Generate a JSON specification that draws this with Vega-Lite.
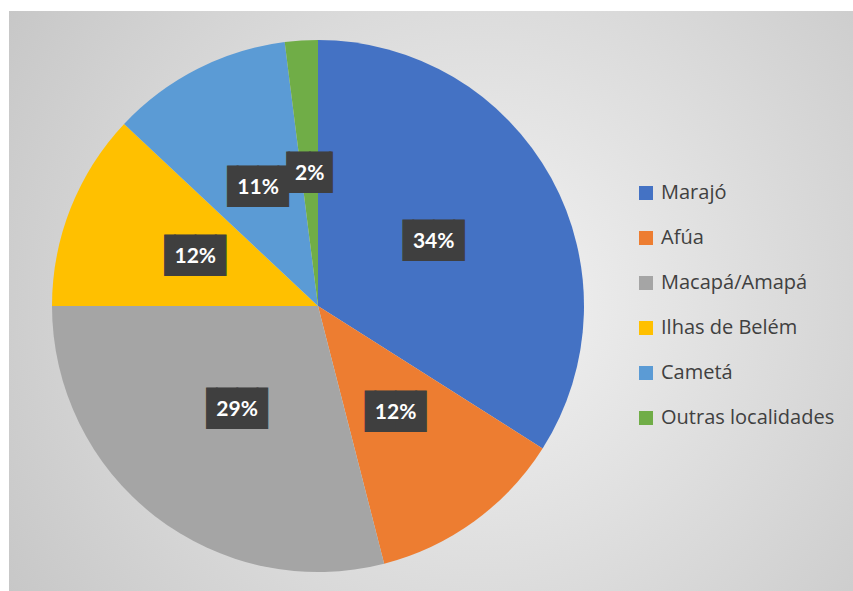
{
  "$schema": "https://vega.github.io/schema/vega-lite/v6.json",
  "width": 844,
  "height": 580,
  "autosize": {"type": "none"},
  "padding": {"left": 9, "top": 11, "right": 0, "bottom": 0},
  "background": "white",
  "config": {
    "view": {"stroke": null},
    "legend": {
      "orient": "none",
      "legendX": 627,
      "legendY": 172,
      "symbolType": "square",
      "symbolSize": 196,
      "symbolStrokeWidth": 0,
      "labelFont": "Open Sans",
      "labelFontSize": 20,
      "labelColor": "#404040",
      "labelOffset": 5,
      "rowPadding": 25,
      "labelLimit": 300
    }
  },
  "datasets": {
    "shares": [
      {"local": "Marajó", "pct": 0.34, "ord": 1},
      {"local": "Afúa", "pct": 0.12, "ord": 2},
      {"local": "Macapá/Amapá", "pct": 0.29, "ord": 3},
      {"local": "Ilhas de Belém", "pct": 0.12, "ord": 4},
      {"local": "Cametá", "pct": 0.11, "ord": 5},
      {"local": "Outras localidades", "pct": 0.02, "ord": 6}
    ],
    "panel": [{"name": "background"}]
  },
  "layer": [
    {
      "data": {"name": "panel"},
      "mark": {
        "type": "rect",
        "color": {
          "gradient": "radial",
          "x1": 0.56, "y1": 0.5, "r1": 0,
          "x2": 0.56, "y2": 0.5, "r2": 0.72,
          "stops": [
            {"offset": 0, "color": "#f3f3f3"},
            {"offset": 1, "color": "#c3c3c3"}
          ]
        }
      },
      "encoding": {
        "x": {"value": 0},
        "x2": {"value": "width"},
        "y": {"value": 0},
        "y2": {"value": "height"}
      }
    },
    {
      "data": {"name": "shares"},
      "mark": {"type": "arc", "outerRadius": 266, "x": 309, "y": 295},
      "encoding": {
        "theta": {"field": "pct", "type": "quantitative", "stack": true},
        "order": {"field": "ord", "type": "quantitative"},
        "color": {
          "field": "local",
          "type": "nominal",
          "title": null,
          "sort": ["Marajó", "Afúa", "Macapá/Amapá", "Ilhas de Belém", "Cametá", "Outras localidades"],
          "scale": {
            "domain": ["Marajó", "Afúa", "Macapá/Amapá", "Ilhas de Belém", "Cametá", "Outras localidades"],
            "range": ["#4472C4", "#ED7D31", "#A5A5A5", "#FFC000", "#5B9BD5", "#70AD47"]
          }
        }
      }
    },
    {
      "data": {"name": "shares"},
      "mark": {
        "type": "text", "radius": 132, "x": 309, "y": 295,
        "font": "DejaVu Sans Mono", "fontSize": 34, "color": "#3f3f3f",
        "stroke": "#3f3f3f", "strokeWidth": 1.2,
        "align": "center", "baseline": "middle"
      },
      "encoding": {
        "theta": {"field": "pct", "type": "quantitative", "stack": true},
        "order": {"field": "ord", "type": "quantitative"},
        "text": {"condition": {"test": "datum.pct < 0.1", "value": "▕██▏"}, "value": "▐██▌"}
      }
    },
    {
      "data": {"name": "shares"},
      "mark": {
        "type": "text", "radius": 132, "x": 309, "y": 295,
        "font": "Lato", "fontSize": 21, "fontWeight": "bold", "color": "white",
        "align": "center", "baseline": "middle"
      },
      "encoding": {
        "theta": {"field": "pct", "type": "quantitative", "stack": true},
        "order": {"field": "ord", "type": "quantitative"},
        "text": {"field": "pct", "type": "quantitative", "format": ".0%"}
      }
    }
  ]
}
